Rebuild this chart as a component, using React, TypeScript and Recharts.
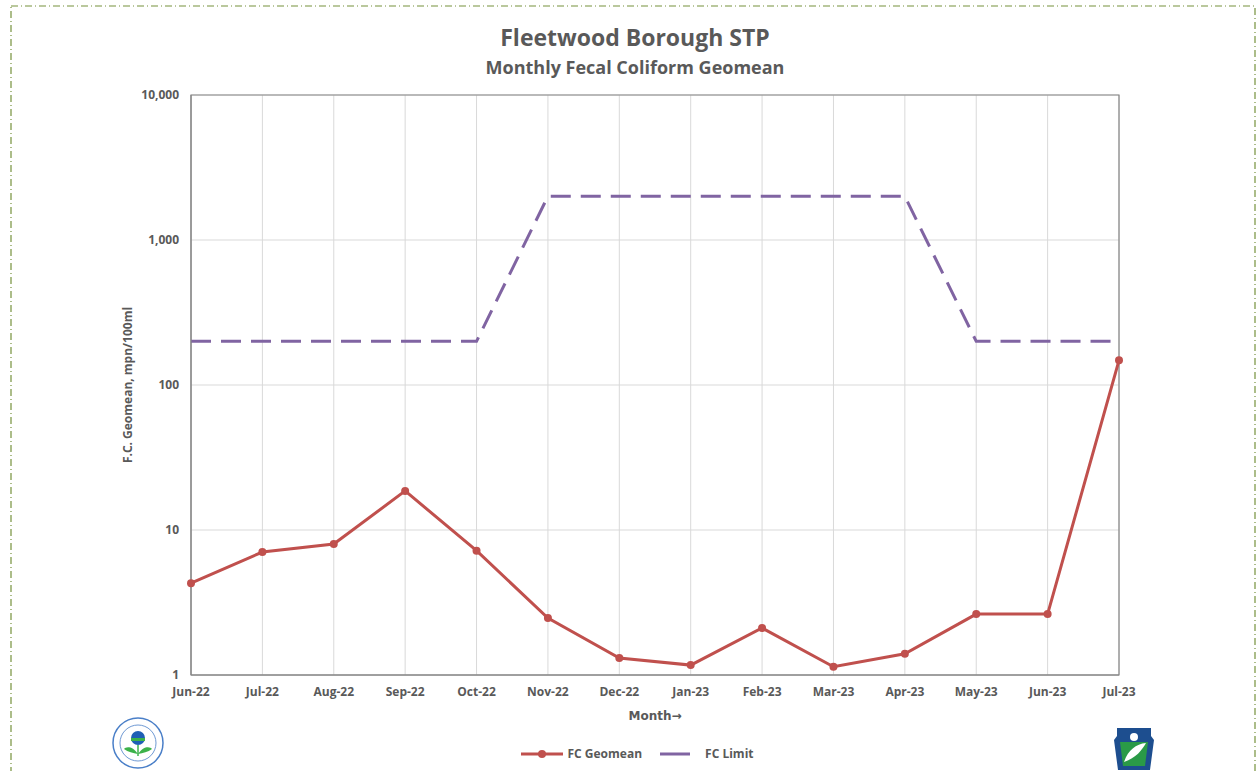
import React from 'react';
import { LineChart, Line, XAxis, YAxis, CartesianGrid, Legend, ReferenceArea } from 'recharts';

const months = ['Jun-22', 'Jul-22', 'Aug-22', 'Sep-22', 'Oct-22', 'Nov-22', 'Dec-22', 'Jan-23', 'Feb-23', 'Mar-23', 'Apr-23', 'May-23', 'Jun-23', 'Jul-23'];
const fcGeomean = [4.3, 7.05, 8.0, 18.6, 7.2, 2.47, 1.31, 1.17, 2.11, 1.14, 1.4, 2.63, 2.63, 148];
const fcLimit = [200, 200, 200, 200, 200, 2000, 2000, 2000, 2000, 2000, 2000, 200, 200, 200];
const yTicks = [1, 10, 100, 1000, 10000];

const data = months.map((m, i) => ({ month: m, geomean: fcGeomean[i], limit: fcLimit[i] }));

const FONT = '"Open Sans", "Liberation Sans", sans-serif';
const TEXT = '#595959';
const RED = '#C0504D';
const PURPLE = '#8064A2';

const renderLegend = () => (
  <div style={{ display: 'flex', justifyContent: 'center', alignItems: 'center', gap: 14, fontFamily: FONT, fontWeight: 700, fontSize: 12, color: TEXT, paddingLeft: 16 }}>
    <span style={{ display: 'flex', alignItems: 'center', gap: 4 }}>
      <svg width={42} height={12}>
        <line x1={0} y1={6} x2={42} y2={6} stroke={RED} strokeWidth={3} strokeDasharray="none" />
        <circle cx={21} cy={6} r={4} fill={RED} />
      </svg>
      FC Geomean
    </span>
    <span style={{ display: 'flex', alignItems: 'center', gap: 15, marginLeft: 4 }}>
      <svg width={30} height={12}>
        <rect x={0} y={4.5} width={30} height={3} fill={PURPLE} />
      </svg>
      FC Limit
    </span>
  </div>
);

function EpaLogo() {
  return (
    <svg width={54} height={54} viewBox="0 0 54 54">
      <circle cx={27} cy={27} r={25} fill="#fff" stroke="#4a7fc8" strokeWidth={1.5} />
      <circle cx={27} cy={27} r={18} fill="none" stroke="#4a7fc8" strokeWidth={0.8} />
      <circle cx={27} cy={22} r={7} fill="#1f5fb5" />
      <rect x={20} y={22} width={14} height={3} fill="#3cb24a" />
      <path d="M27 38 C22 30 15 30 13 33 C17 36 22 37 27 38 Z" fill="#3cb24a" />
      <path d="M27 38 C32 30 39 30 41 33 C37 36 32 37 27 38 Z" fill="#3cb24a" />
      <line x1={27} y1={29} x2={27} y2={40} stroke="#3cb24a" strokeWidth={1.5} />
    </svg>
  );
}

function PaLogo() {
  return (
    <svg width={40} height={42} viewBox="0 0 40 42">
      <path d="M3 0 H37 V8 L40 12 L36 42 H4 L0 12 L3 8 Z" fill="#1d4e8f" />
      <path d="M6 14 H34 L31 38 H9 Z" fill="#2a9a47" />
      <path d="M10 34 C14 22 22 16 32 15 C28 22 22 30 10 34 Z" fill="#fff" />
      <circle cx={20} cy={9} r={4} fill="#fff" />
    </svg>
  );
}

export default function App() {
  return (
    <div style={{ position: 'absolute', left: 0, top: 0, width: 1259, height: 771, background: '#fff', overflow: 'hidden', fontFamily: FONT }}>
      <svg width={1259} height={771} style={{ position: 'absolute', left: 0, top: 0 }}>
        <rect x={11} y={6} width={1244} height={820} fill="none" stroke="#76923c" strokeWidth={1.2} strokeDasharray="7 3 1 3" />
      </svg>
      <div style={{ position: 'absolute', top: 20, left: 0, width: 1270, textAlign: 'center', color: TEXT, fontWeight: 700 }}>
        <div style={{ fontSize: 23, lineHeight: '34px' }}>Fleetwood Borough STP</div>
        <div style={{ fontSize: 18, lineHeight: '26px' }}>Monthly Fecal Coliform Geomean</div>
      </div>
      <div style={{ position: 'absolute', left: 0, top: 0 }}>
        <LineChart width={1259} height={771} data={data} margin={{ top: 95, right: 140, bottom: 66, left: 131 }}>
          <CartesianGrid stroke="#d9d9d9" strokeWidth={1} />
          <XAxis
            dataKey="month"
            height={30}
            tickLine={false}
            tickSize={0}
            tickMargin={12}
            axisLine={{ stroke: '#868686' }}
            tick={{ fill: TEXT, fontSize: 12, fontWeight: 700, fontFamily: FONT }}
            interval={0}
            label={{ value: 'Month→', position: 'bottom', offset: 6, style: { fill: TEXT, fontSize: 12, fontWeight: 700, fontFamily: '"DejaVu Sans", sans-serif' } }}
          />
          <YAxis
            scale="log"
            domain={[1, 10000]}
            ticks={yTicks}
            allowDataOverflow
            width={60}
            tickLine={false}
            tickSize={0}
            tickMargin={12}
            axisLine={{ stroke: '#868686' }}
            tickFormatter={(v: number) => v.toLocaleString('en-US')}
            tick={{ fill: TEXT, fontSize: 12, fontWeight: 700, fontFamily: FONT }}
            label={{ value: 'F.C. Geomean, mpn/100ml', angle: -90, position: 'insideLeft', offset: -3, style: { textAnchor: 'middle', fill: TEXT, fontSize: 12, fontWeight: 700, fontFamily: FONT } }}
          />
          <ReferenceArea x1="Jun-22" x2="Jul-23" y1={1} y2={10000} fill="none" stroke="#868686" strokeWidth={1.2} ifOverflow="visible" />
          <Line dataKey="limit" name="FC Limit" stroke={PURPLE} strokeWidth={3} strokeDasharray="20 10" dot={false} isAnimationActive={false} />
          <Line dataKey="geomean" name="FC Geomean" stroke={RED} strokeWidth={3} dot={{ r: 4, fill: RED, stroke: RED, strokeWidth: 0 }} isAnimationActive={false} />
          <Legend content={renderLegend} wrapperStyle={{ position: 'absolute', top: 745, left: 0, width: 1259, height: 0, overflow: 'visible' }} />
        </LineChart>
      </div>
      <div style={{ position: 'absolute', left: 111, top: 716 }}>
        <EpaLogo />
      </div>
      <div style={{ position: 'absolute', left: 1114, top: 728 }}>
        <PaLogo />
      </div>
    </div>
  );
}
